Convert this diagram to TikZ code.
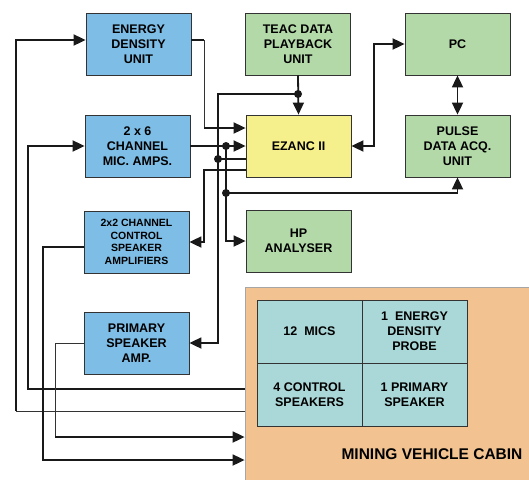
\documentclass[tikz,border=0pt]{standalone}
\usepackage{fontspec}
\setmainfont{Liberation Sans}
\usetikzlibrary{arrows.meta}

\definecolor{ampblue}{HTML}{7DBDE6}
\definecolor{instgreen}{HTML}{B3D9A9}
\definecolor{ctrlyellow}{HTML}{F6F08C}
\definecolor{cabinorange}{HTML}{F2C290}
\definecolor{cellteal}{HTML}{AAD7D7}

\begin{document}
\begin{tikzpicture}[
  x=1pt, y=-1pt,
  font=\bfseries\fontsize{12.5}{15}\selectfont,
  >={Triangle[length=12pt,width=11pt]},
  unit/.style={draw=black!80, line width=0.8pt, align=center, minimum width=105pt,
               minimum height=62pt, inner sep=2pt},
  amp/.style={unit, fill=ampblue},
  inst/.style={unit, fill=instgreen},
  cell/.style={draw=black!80, line width=0.6pt, fill=cellteal, align=center,
               minimum width=105pt, minimum height=63pt},
  wire/.style={draw=black!90, line width=1.8pt},
  fine/.style={draw=black!80, line width=1pt},
  dot/.style={fill=black!90}
]
\useasboundingbox (0,0) rectangle (529,479);
% cabin and its contents
\node[draw=black!35, fill=cabinorange, line width=0.8pt, minimum width=290pt, minimum height=196pt] (cabin) at (390,385) {};
\node[cell] (mics) at (309.5,331.5) {12~ MICS};
\node[cell] (probe) at (414.5,331.5) {1~ ENERGY\\DENSITY\\PROBE};
\node[cell] (ctrlspk) at (309.5,394.5) {4 CONTROL\\SPEAKERS};
\node[cell] (primspk) at (414.5,394.5) {1 PRIMARY\\SPEAKER};
\node[font=\bfseries\fontsize{15.5}{18}\selectfont] (cabinlbl) at (432,454) {MINING VEHICLE CABIN};
% units
\node[amp] (edu) at (138.5,44) {ENERGY\\DENSITY\\UNIT};
\node[amp] (mic) at (137.5,146) {2 x 6\\CHANNEL\\MIC. AMPS.};
\node[amp, font=\bfseries\fontsize{10.5}{12.7}\selectfont] (spk) at (136.5,242) {2x2 CHANNEL\\CONTROL\\SPEAKER\\AMPLIFIERS};
\node[amp] (pri) at (136.5,343) {PRIMARY\\SPEAKER\\AMP.};
\node[inst] (teac) at (298,44) {TEAC DATA\\PLAYBACK\\UNIT};
\node[unit, fill=ctrlyellow] (ezanc) at (298.5,146) {EZANC II};
\node[inst] (hp) at (298.5,241) {HP\\ANALYSER};
\node[inst] (pc) at (457.5,44) {PC};
\node[inst] (pulse) at (457.5,146) {PULSE\\DATA ACQ.\\UNIT};
% junctions and bends
\coordinate (jmic) at (226,146);
\coordinate (jpulse) at (226,193);
\coordinate (jteac) at (298,94);
\coordinate (jout) at (218,159);
\coordinate (bedu) at (204,40);
\coordinate (bprobe) at (16,411);
\coordinate (bpri) at (55,343);
% connectors
\draw[wire] ([yshift=4pt]edu.east) -- (bedu);
\draw[fine] (bedu) -- (204,128);
\draw[wire,->] (204,128) -- ([yshift=18pt]ezanc.west);
\draw[wire,->] (mic.east) -- (ezanc.west);
\draw[wire,->] (jmic) |- (hp.west);
\draw[wire,->] (jpulse) -| (pulse.south);
\draw[wire,->] (teac.south) -- (ezanc.north);
\draw[wire,->] (jteac) -| (218,343) -- (pri.east);
\draw[wire] ([yshift=-13pt]ezanc.west) -- (jout);
\draw[wire,->] ([yshift=-24pt]ezanc.west) -| (204,242) -- (spk.east);
\draw[wire,<->] (ezanc.east) -| (374,44) -- (pc.west);
\draw[wire,<->] (pc.south) -- (pulse.north);
\draw[fine] ([yshift=-26pt]cabin.west) -- (bprobe);
\draw[wire,->] (bprobe) -- (16,40) -- ([yshift=4pt]edu.west);
\draw[wire,->] ([yshift=-4pt]cabin.west) -| (28,146) -- (mic.west);
\draw[wire,->] ([yshift=-5pt]spk.west) -| (43,460) -- ([yshift=-75pt]cabin.west);
\draw[fine] (pri.west) -- (bpri) -- (55,437);
\draw[wire,->] (55,437) -- ([yshift=-52pt]cabin.west);
\foreach \j in {jmic,jpulse,jteac,jout}
  \fill[dot] (\j) circle (4pt);
\end{tikzpicture}
\end{document}
